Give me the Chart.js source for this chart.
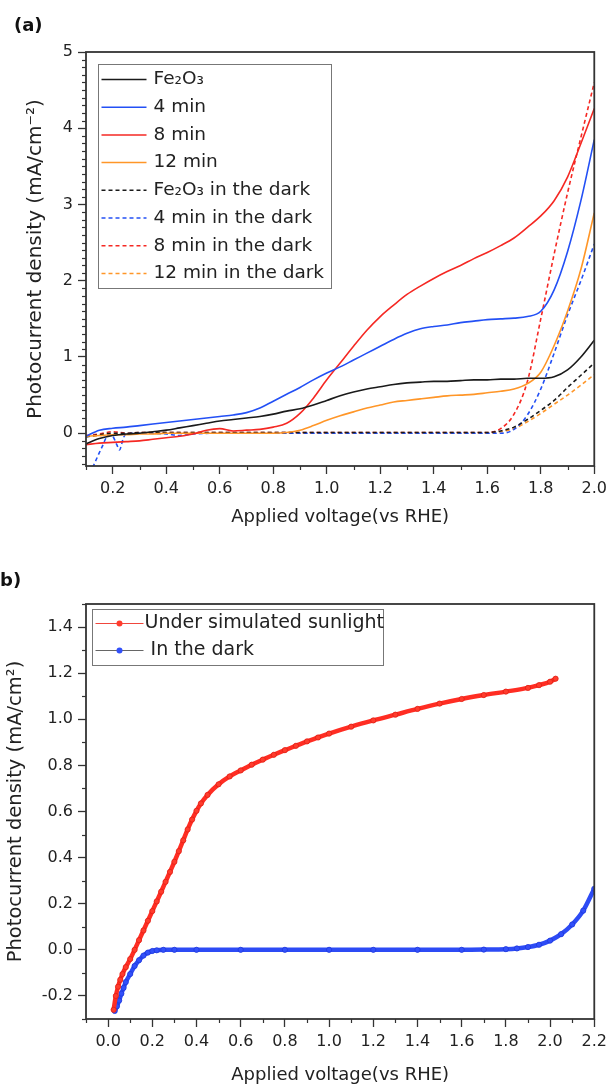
<!DOCTYPE html>
<html>
<head>
<meta charset="utf-8">
<script src="https://cdn.jsdelivr.net/npm/chart.js@4.4.1/dist/chart.umd.min.js"></script>
<style>
  body { margin: 0; background: #fff; width: 612px; height: 1086px; position: relative; overflow: hidden; font-family: "DejaVu Sans", sans-serif; }
  .panel { position: absolute; left: 0; width: 612px; }
  .panel canvas { display: block; }
  .tag { position: absolute; font-weight: bold; color: #111; font-size: 18px; line-height: 21px; z-index: 2; }
</style>
</head>
<body>
<div class="panel" style="top:0;height:540px"><canvas id="chartA" width="612" height="540"></canvas></div>
<div class="panel" style="top:540px;height:546px"><canvas id="chartB" width="612" height="546"></canvas></div>
<div class="tag" style="left:14px;top:14px">(a)</div>
<div class="tag" style="left:0px;top:569px">b)</div>
<script>
// ---- panel (a): LSV curves, light and dark ----
const voltA = [0.10, 0.15, 0.20, 0.25, 0.30, 0.35, 0.40, 0.45, 0.50, 0.55, 0.60, 0.65, 0.70, 0.75, 0.80, 0.85, 0.90, 0.95, 1.00, 1.05,
  1.10, 1.15, 1.20, 1.25, 1.30, 1.35, 1.40, 1.45, 1.50, 1.55, 1.60, 1.65, 1.70, 1.75, 1.80, 1.85, 1.90, 1.95, 2.00];
const fe2o3 = [-0.14, -0.07, -0.03, -0.01, 0.00, 0.02, 0.04, 0.07, 0.10, 0.13, 0.16, 0.18, 0.20, 0.22, 0.25, 0.29, 0.32, 0.37, 0.43, 0.49,
  0.54, 0.58, 0.61, 0.64, 0.66, 0.67, 0.68, 0.68, 0.69, 0.70, 0.70, 0.71, 0.71, 0.72, 0.72, 0.74, 0.83, 1.00, 1.22];
const min4 = [-0.04, 0.04, 0.065, 0.08, 0.10, 0.12, 0.14, 0.16, 0.18, 0.20, 0.22, 0.24, 0.27, 0.33, 0.42, 0.51, 0.60, 0.70, 0.79, 0.87,
  0.96, 1.05, 1.14, 1.23, 1.31, 1.37, 1.40, 1.42, 1.45, 1.47, 1.49, 1.50, 1.51, 1.53, 1.60, 1.88, 2.38, 3.05, 3.85];
const min8 = [-0.15, -0.13, -0.12, -0.11, -0.10, -0.08, -0.06, -0.04, -0.01, 0.04, 0.06, 0.03, 0.04, 0.05, 0.08, 0.13, 0.26, 0.46, 0.70, 0.92,
  1.14, 1.35, 1.53, 1.68, 1.82, 1.93, 2.03, 2.12, 2.20, 2.29, 2.37, 2.46, 2.56, 2.70, 2.85, 3.05, 3.36, 3.80, 4.26];
const min12 = [-0.04, -0.03, -0.02, -0.02, -0.01, -0.01, 0.00, 0.00, 0.00, 0.00, 0.00, 0.00, 0.00, 0.00, 0.00, 0.01, 0.04, 0.10, 0.17, 0.23,
  0.28, 0.33, 0.37, 0.41, 0.43, 0.45, 0.47, 0.49, 0.50, 0.51, 0.53, 0.55, 0.58, 0.65, 0.80, 1.15, 1.60, 2.15, 2.89];

const voltDark = [0.10, 0.15, 0.20, 0.25, 0.30, 0.40, 0.50, 0.60, 0.70, 0.80, 0.90, 1.00, 1.10, 1.20, 1.30, 1.40, 1.50, 1.60,
  1.65, 1.70, 1.75, 1.80, 1.85, 1.90, 1.95, 2.00];
const fe2o3Dark = [-0.05, -0.02, 0.00, 0.00, 0.01, 0.01, 0.01, 0.01, 0.01, 0.01, 0.01, 0.01, 0.01, 0.01, 0.01, 0.01, 0.01, 0.01,
  0.03, 0.08, 0.18, 0.30, 0.43, 0.60, 0.76, 0.92];
const min8Dark = [-0.03, -0.01, 0.02, 0.00, 0.01, 0.01, 0.01, 0.01, 0.01, 0.01, 0.01, 0.01, 0.01, 0.01, 0.01, 0.01, 0.01, 0.01,
  0.06, 0.25, 0.68, 1.50, 2.35, 3.15, 3.88, 4.60];
const min12Dark = [-0.04, -0.03, -0.02, -0.01, 0.00, 0.00, 0.00, 0.00, 0.00, 0.00, 0.00, 0.00, 0.00, 0.00, 0.00, 0.00, 0.00, 0.00,
  0.02, 0.06, 0.15, 0.26, 0.38, 0.50, 0.63, 0.77];
const voltMin4Dark = [0.125, 0.16, 0.185, 0.20, 0.215, 0.225, 0.24, 0.25, 0.30, 0.40, 0.45, 0.50, 0.60, 0.80, 1.00, 1.20, 1.40, 1.60,
  1.65, 1.70, 1.75, 1.80, 1.85, 1.90, 1.95, 2.00];
const min4Dark = [-0.45, -0.18, -0.02, -0.04, -0.15, -0.22, -0.06, -0.01, 0.00, -0.01, -0.03, -0.01, 0.00, 0.00, 0.00, 0.00, 0.00, 0.00,
  0.00, 0.05, 0.24, 0.58, 1.05, 1.55, 2.00, 2.48];

const ticksAX = [0.2, 0.4, 0.6, 0.8, 1.0, 1.2, 1.4, 1.6, 1.8, 2.0];
const ticksAY = [0, 1, 2, 3, 4, 5];

// ---- panel (b): sunlight vs dark ----
const voltSun = [0.025, 0.035, 0.045, 0.055, 0.065, 0.08, 0.10, 0.12, 0.14, 0.16, 0.18, 0.20, 0.22, 0.24, 0.26, 0.28, 0.30, 0.32, 0.34, 0.36,
  0.38, 0.40, 0.42, 0.45, 0.50, 0.55, 0.60, 0.65, 0.70, 0.75, 0.80, 0.85, 0.90, 0.95, 1.00, 1.10, 1.20, 1.30, 1.40, 1.50, 1.60,
  1.70, 1.80, 1.90, 1.95, 2.00, 2.025];
const jSun = [-0.26, -0.20, -0.16, -0.13, -0.105, -0.075, -0.04, 0.00, 0.042, 0.084, 0.126, 0.168, 0.21, 0.252, 0.295, 0.338, 0.382, 0.428, 0.475, 0.522,
  0.565, 0.603, 0.635, 0.672, 0.718, 0.752, 0.778, 0.803, 0.825, 0.846, 0.866, 0.885, 0.904, 0.921, 0.938, 0.968, 0.995, 1.02, 1.045, 1.068, 1.088,
  1.105, 1.12, 1.136, 1.148, 1.163, 1.176];
const voltDarkB = [0.03, 0.04, 0.05, 0.06, 0.07, 0.08, 0.10, 0.12, 0.14, 0.16, 0.18, 0.20, 0.22, 0.25, 0.30, 0.40, 0.60, 0.80, 1.00, 1.20,
  1.40, 1.60, 1.70, 1.80, 1.85, 1.90, 1.95, 2.00, 2.05, 2.10, 2.15, 2.20];
const jDarkB = [-0.265, -0.245, -0.22, -0.19, -0.165, -0.14, -0.105, -0.07, -0.045, -0.025, -0.012, -0.005, -0.002, 0, 0, 0, 0, 0, 0, 0,
  0, 0, 0.001, 0.003, 0.006, 0.012, 0.022, 0.04, 0.068, 0.11, 0.17, 0.265];

const ticksBX = [0.0, 0.2, 0.4, 0.6, 0.8, 1.0, 1.2, 1.4, 1.6, 1.8, 2.0, 2.2];
const ticksBY = [-0.2, 0.0, 0.2, 0.4, 0.6, 0.8, 1.0, 1.2, 1.4];

Chart.defaults.font.family = "'DejaVu Sans', sans-serif";
Chart.defaults.color = '#222';

function pairs(xs, ys) {
  return xs.map((x, i) => ({ x: x, y: ys[i] }));
}

// frame round the plot area plus short minor ticks
const frameMinor = {
  id: 'frameMinor',
  afterDraw(chart, args, o) {
    const { ctx, chartArea: a, scales } = chart;
    ctx.save();
    ctx.strokeStyle = '#333';
    ctx.lineWidth = 1.2;
    ['x', 'y'].forEach(k => {
      const s = scales[k];
      const step = o[k];
      const majors = s.ticks.map(t => t.value);
      for (let n = Math.ceil(s.min / step - 1e-6); n * step <= s.max + 1e-6; n++) {
        const v = n * step;
        if (majors.some(m => Math.abs(m - v) < 1e-6)) continue;
        const p = Math.round(s.getPixelForValue(v)) + 0.5;
        ctx.beginPath();
        if (k === 'x') { ctx.moveTo(p, a.bottom); ctx.lineTo(p, a.bottom + o.len); }
        else { ctx.moveTo(a.left, p); ctx.lineTo(a.left - o.len, p); }
        ctx.stroke();
      }
    });
    ctx.lineWidth = 1.8;
    ctx.strokeRect(a.left, a.top, a.right - a.left, a.bottom - a.top);
    ctx.restore();
  }
};

// boxed legend inside the plot area
const boxLegend = {
  id: 'boxLegend',
  afterDraw(chart, args, o) {
    const { ctx, chartArea: a } = chart;
    const x0 = Math.round(a.left + o.dx) + 0.5, y0 = Math.round(a.top + o.dy) + 0.5;
    ctx.save();
    ctx.strokeStyle = '#777';
    ctx.lineWidth = 1;
    ctx.strokeRect(x0, y0, o.w, o.h);
    ctx.font = o.font;
    ctx.textBaseline = 'middle';
    chart.data.datasets.forEach((ds, i) => {
      const y = y0 + o.first + i * o.row;
      ctx.beginPath();
      ctx.strokeStyle = ds.legendLine || ds.borderColor;
      ctx.lineWidth = o.lineWidth;
      ctx.setLineDash(ds.borderDash || []);
      ctx.moveTo(x0 + o.sx0, y);
      ctx.lineTo(x0 + o.sx1, y);
      ctx.stroke();
      ctx.setLineDash([]);
      if (o.dot) {
        ctx.beginPath();
        ctx.fillStyle = ds.pointBackgroundColor;
        ctx.arc(x0 + (o.sx0 + o.sx1) / 2, y, 3, 0, Math.PI * 2);
        ctx.fill();
      }
      ctx.fillStyle = '#222';
      ctx.fillText(ds.label, x0 + o.tx, y);
    });
    ctx.restore();
  }
};

function axis(min, max, ticks, fmt, fit, title, titleSize, titlePad) {
  return {
    type: 'linear',
    min: min,
    max: max,
    afterBuildTicks: s => { s.ticks = ticks.map(v => ({ value: v })); },
    afterFit: fit,
    ticks: { font: { size: 16 }, color: '#222', padding: 5, maxRotation: 0, autoSkip: false, callback: fmt },
    grid: { drawOnChartArea: false, drawTicks: true, tickLength: 8, tickColor: '#333', tickWidth: 1.3 },
    border: { display: false },
    title: { display: true, text: title, font: { size: titleSize }, color: '#222', padding: titlePad }
  };
}

const black = '#1a1a1a', blue = 'rgb(35,80,245)', red = 'rgb(245,40,35)', orange = 'rgb(255,150,40)';
const dash = [4, 3];

function lineSet(label, xs, ys, color, dashed) {
  return {
    label: label,
    data: pairs(xs, ys),
    borderColor: color,
    borderWidth: 1.6,
    borderDash: dashed ? dash : [],
    pointRadius: 0,
    cubicInterpolationMode: 'monotone',
    fill: false
  };
}

new Chart(document.getElementById('chartA'), {
  type: 'line',
  data: {
    datasets: [
      lineSet('Fe\u2082O\u2083', voltA, fe2o3, black, false),
      lineSet('4 min', voltA, min4, blue, false),
      lineSet('8 min', voltA, min8, red, false),
      lineSet('12 min', voltA, min12, orange, false),
      lineSet('Fe\u2082O\u2083 in the dark', voltDark, fe2o3Dark, black, true),
      lineSet('4 min in the dark', voltMin4Dark, min4Dark, blue, true),
      lineSet('8 min in the dark', voltDark, min8Dark, red, true),
      lineSet('12 min in the dark', voltDark, min12Dark, orange, true)
    ]
  },
  options: {
    responsive: false,
    animation: false,
    events: [],
    layout: { padding: { left: 0, right: 13, top: 52, bottom: 0 } },
    scales: {
      x: axis(0.1, 2.0, ticksAX, v => v.toFixed(1), s => { s.height = 74; },
        'Applied voltage(vs RHE)', 18, { top: 0, bottom: 12 }),
      y: axis(-0.43, 5, ticksAY, v => String(v), s => { s.width = 86; },
        'Photocurrent density (mA/cm\u207B\u00B2)', 20, { top: 24, bottom: 0 })
    },
    plugins: {
      legend: { display: false },
      tooltip: { enabled: false },
      frameMinor: { x: 0.1, y: 0.1, len: 4 },
      boxLegend: { dx: 12, dy: 11.5, w: 233, h: 224, first: 15, row: 27.7, sx0: 3, sx1: 48, tx: 55,
        lineWidth: 1.5, font: "18.5px 'DejaVu Sans', sans-serif" }
    }
  },
  plugins: [frameMinor, boxLegend]
});

new Chart(document.getElementById('chartB'), {
  type: 'line',
  data: {
    datasets: [
      {
        label: 'Under simulated sunlight',
        data: pairs(voltSun, jSun),
        borderColor: 'rgb(255,45,35)',
        borderWidth: 4.5,
        pointRadius: 2.6,
        pointBackgroundColor: 'rgb(255,60,45)',
        pointBorderColor: 'rgb(225,30,20)',
        pointBorderWidth: 0.8,
        legendLine: 'rgb(240,70,60)',
        cubicInterpolationMode: 'monotone'
      },
      {
        label: ' In the dark',
        data: pairs(voltDarkB, jDarkB),
        borderColor: 'rgb(45,75,245)',
        borderWidth: 4.5,
        pointRadius: 2.6,
        pointBackgroundColor: 'rgb(50,80,250)',
        pointBorderColor: 'rgb(30,55,220)',
        pointBorderWidth: 0.8,
        legendLine: '#666',
        cubicInterpolationMode: 'monotone'
      }
    ]
  },
  options: {
    responsive: false,
    animation: false,
    events: [],
    layout: { padding: { left: 0, right: 12, top: 64, bottom: 0 } },
    scales: {
      x: axis(-0.1, 2.2, ticksBX, v => v.toFixed(1), s => { s.height = 67; },
        'Applied voltage(vs RHE)', 18, { top: 0, bottom: 0 }),
      y: axis(-0.3, 1.5, ticksBY, v => v.toFixed(1), s => { s.width = 86; },
        'Photocurrent density (mA/cm\u00B2)', 19.5, { top: 4, bottom: 0 })
    },
    plugins: {
      legend: { display: false },
      tooltip: { enabled: false },
      frameMinor: { x: 0.1, y: 0.1, len: 4 },
      boxLegend: { dx: 6, dy: 5, w: 291, h: 56, first: 14, row: 27, sx0: 3, sx1: 51, tx: 52,
        lineWidth: 1, dot: true, font: "19px 'DejaVu Sans', sans-serif" }
    }
  },
  plugins: [frameMinor, boxLegend]
});
</script>
</body>
</html>
